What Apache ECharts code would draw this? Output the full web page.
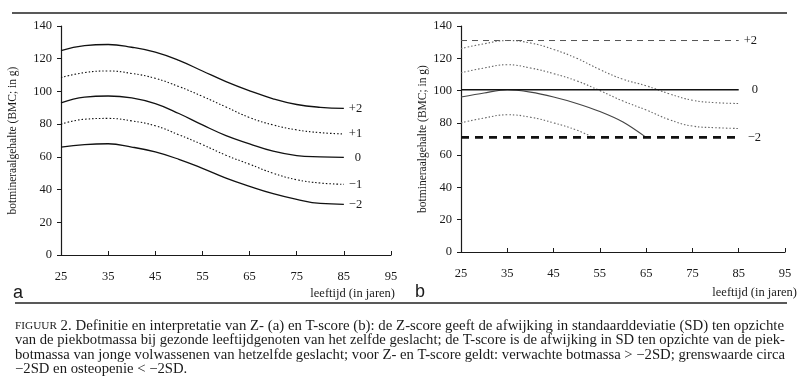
<!DOCTYPE html>
<html>
<head>
<meta charset="utf-8">
<script src="https://cdn.jsdelivr.net/npm/echarts@6/dist/echarts.min.js"></script>
<style>
html,body{margin:0;padding:0;background:#fff;}
#chart{width:800px;height:380px;}
</style>
</head>
<body>
<div id="chart"></div>
<script>
// ---- data ----
const xTicks = [25, 35, 45, 55, 65, 75, 85, 95];
const yTicks = [0, 20, 40, 60, 80, 100, 120, 140];

// panel a (Z-score)
const ages   = [25, 30, 35, 40, 45, 50, 55, 60, 65, 70, 75, 80, 85];
const zPlus2 = [125, 128, 128.7, 127, 124, 119, 112.5, 106, 100.4, 95.5, 92, 90.3, 89.7];
const zPlus1 = [108.5, 111.5, 112.5, 111, 108, 103, 97, 90.5, 84, 79.5, 76.5, 74.8, 74];
const zZero  = [93, 96.5, 97.2, 96, 92.5, 86.5, 79.5, 73, 68, 63.5, 60.8, 60, 59.7];
const zMin1  = [80, 83, 83.5, 82, 79, 73.5, 67.5, 61, 55.5, 50, 46, 44, 43.2];
const zMin2  = [66, 67.5, 68, 66, 63, 58.5, 53, 47, 42, 37.5, 34, 31.5, 31];

// panel b (T-score)
const tRefAges   = [25, 85];
const tPlus2     = [131, 131];
const tZero      = [100.5, 100.5];
const tMin2      = [71, 71];
const tUpper     = [126, 129, 131, 129.5, 125.5, 120, 113, 107, 103, 98, 94, 92.5, 92];
const tMiddle    = [111, 114, 116, 114, 110.5, 106, 100, 93.5, 88, 82, 78, 77, 76.5];
const tLowAges   = [25, 30, 35, 40, 45, 50, 53.5];
const tLower     = [80, 83, 85, 83.5, 80, 75.5, 71];
const tActAges   = [25, 30, 35, 40, 45, 50, 55, 60, 65];
const tActual    = [96, 98.5, 100.5, 99, 96, 92, 87, 80.5, 71];

const yName = 'botmineraalgehalte (BMC; in g)';
const xName = 'leeftijd (in jaren)';
const caption = [
  ['FIGUUR', ' 2. Definitie en interpretatie van Z- (a) en T-score (b): de Z-score geeft de afwijking in standaarddeviatie (SD) ten opzichte'],
  ['', 'van de piekbotmassa bij gezonde leeftijdgenoten van het zelfde geslacht; de T-score is de afwijking in SD ten opzichte van de piek-'],
  ['', 'botmassa van jonge volwassenen van hetzelfde geslacht; voor Z- en T-score geldt: verwachte botmassa > \u22122SD; grenswaarde circa'],
  ['', '\u22122SD en osteopenie < \u22122SD.']
];

// ---- helpers ----
const SERIF = '"Liberation Serif", "DejaVu Serif", serif';
const INK = '#1a1a1a';
const pairs = (xs, ys) => xs.map((x, i) => [x, ys[i]]);

function xAxisOf(gi) {
  return {
    gridIndex: gi, type: 'value', min: 25, max: 95, interval: 10,
    axisLine: { lineStyle: { color: INK, width: 1.2 } },
    axisTick: { inside: true, length: 4, lineStyle: { color: INK } },
    axisLabel: { margin: 15, color: INK, fontFamily: SERIF, fontSize: 12.5,
                 formatter: v => xTicks.includes(v) ? String(v) : '' },
    splitLine: { show: false }
  };
}
function yAxisOf(gi, gap) {
  return {
    gridIndex: gi, type: 'value', min: 0, max: 140, interval: 20,
    name: yName, nameLocation: 'middle', nameGap: gap, nameRotate: 90,
    nameTextStyle: { color: INK, fontFamily: SERIF, fontSize: 11.5 },
    axisLine: { show: true, lineStyle: { color: INK, width: 1.2 } },
    axisTick: { show: true, length: 4, lineStyle: { color: INK } },
    axisLabel: { margin: 9, color: INK, fontFamily: SERIF, fontSize: 12.5,
                 formatter: v => yTicks.includes(v) ? String(v) : '' },
    splitLine: { show: false }
  };
}
function line(gi, xs, ys, style, label, dist) {
  return {
    type: 'line', xAxisIndex: gi, yAxisIndex: gi,
    data: pairs(xs, ys), smooth: style.smooth === undefined ? 0.45 : style.smooth,
    symbol: 'none', silent: true,
    lineStyle: { color: style.color, width: style.width, type: style.type },
    endLabel: label ? { show: true, formatter: label, distance: dist, color: INK,
                        fontFamily: SERIF, fontSize: 12.5 } : { show: false },
    z: style.z || 2
  };
}

const solid = { color: '#111', width: 1.3, type: 'solid' };
const dotted = { color: '#111', width: 1.1, type: [1.5, 2] };
const greyDot = { color: '#666', width: 1.1, type: [1.5, 2] };

// caption measuring
const ctx = document.createElement('canvas').getContext('2d');
function tw(text, size) { ctx.font = size + 'px "Liberation Serif"'; return ctx.measureText(text).width; }
const capY = [326, 340.5, 355, 369];
const capTargets = [769, 770, 770, null];
const SC = 11, NS = 14.5;
let lastScale = 1;
const capGraphics = caption.map((c, i) => {
  const natural = tw(c[0], SC) + tw(c[1], NS);
  const s = capTargets[i] ? capTargets[i] / natural : lastScale;
  lastScale = s;
  return {
    type: 'text', x: 15, y: capY[i], scaleX: s, silent: true,
    style: {
      text: (c[0] ? '{sc|' + c[0] + '}' : '') + '{n|' + c[1] + '}',
      rich: {
        sc: { fontFamily: SERIF, fontSize: SC, fill: INK },
        n: { fontFamily: SERIF, fontSize: NS, fill: INK }
      },
      verticalAlign: 'middle', align: 'left'
    }
  };
});

const chart = echarts.init(document.getElementById('chart'), null, { renderer: 'canvas' });
chart.setOption({
  animation: false,
  backgroundColor: '#fff',
  grid: [
    { left: 61, top: 26, width: 330, height: 229 },
    { left: 461, top: 26, width: 324, height: 226 }
  ],
  xAxis: [xAxisOf(0), xAxisOf(1)],
  yAxis: [yAxisOf(0, 42), yAxisOf(1, 26)],
  series: [
    line(0, ages, zPlus2, solid, '+2', 5),
    line(0, ages, zPlus1, dotted, '+1', 5),
    line(0, ages, zZero, solid, '0', 11),
    line(0, ages, zMin1, dotted, '\u22121', 5),
    line(0, ages, zMin2, solid, '\u22122', 5),

    line(1, tRefAges, tPlus2, { color: '#555', width: 1, type: [6, 5], smooth: false }, '+2', 5),
    line(1, tRefAges, tZero, { color: '#111', width: 1.5, type: 'solid', smooth: false, z: 3 }, '0', 13),
    line(1, tRefAges, tMin2, { color: '#111', width: 2.6, type: [8, 6], smooth: false, z: 3 }, '\u22122', 9),
    line(1, ages, tUpper, greyDot),
    line(1, ages, tMiddle, greyDot),
    line(1, tLowAges, tLower, greyDot),
    line(1, tActAges, tActual, { color: '#444', width: 1.2, type: 'solid', smooth: 0.3 })
  ],
  graphic: [
    { type: 'line', silent: true, shape: { x1: 12, y1: 13, x2: 787, y2: 13 }, style: { stroke: '#222', lineWidth: 1.5 } },
    { type: 'line', silent: true, shape: { x1: 15, y1: 303, x2: 787, y2: 303 }, style: { stroke: '#222', lineWidth: 1.5 } },
    { type: 'text', left: 13, top: 284, silent: true, style: { text: 'a', fontFamily: '"Liberation Sans", Arial, sans-serif', fontSize: 18, fill: INK } },
    { type: 'text', left: 415, top: 283, silent: true, style: { text: 'b', fontFamily: '"Liberation Sans", Arial, sans-serif', fontSize: 18, fill: INK } },
    { type: 'text', x: 395, y: 294, silent: true, style: { text: xName, align: 'right', verticalAlign: 'middle', fontFamily: SERIF, fontSize: 12.5, fill: INK } },
    { type: 'text', x: 797, y: 293, silent: true, style: { text: xName, align: 'right', verticalAlign: 'middle', fontFamily: SERIF, fontSize: 12.5, fill: INK } },
    ...capGraphics
  ]
});
</script>
</body>
</html>
